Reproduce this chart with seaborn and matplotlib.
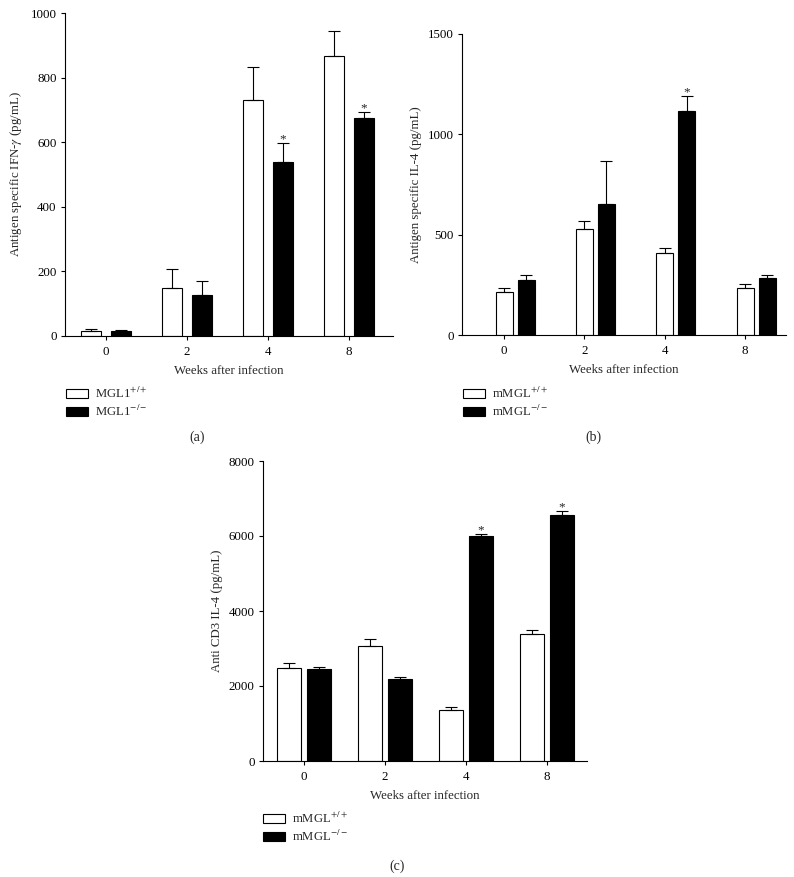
import numpy as np
import pandas as pd
import seaborn as sns
import matplotlib.pyplot as plt
from matplotlib.patches import Patch

# -------------------------------------------------
# Data
# -------------------------------------------------
weeks = ["0", "2", "4", "8"]

# (a) antigen specific IFN-gamma
ifn_wt = [15, 149, 730, 868]
ifn_wt_err = [7, 59, 103, 76]
ifn_ko = [14, 127, 540, 675]
ifn_ko_err = [4, 44, 58, 19]
ifn_stars = [False, False, True, True]

# (b) antigen specific IL-4
il4_wt = [213, 528, 410, 233]
il4_wt_err = [23, 38, 26, 22]
il4_ko = [276, 651, 1117, 285]
il4_ko_err = [25, 215, 73, 15]
il4_stars = [False, False, True, False]

# (c) anti CD3 IL-4
cd3_wt = [2487, 3073, 1350, 3375]
cd3_wt_err = [115, 177, 98, 124]
cd3_ko = [2451, 2176, 6012, 6554]
cd3_ko_err = [62, 71, 45, 107]
cd3_stars = [False, False, True, True]

# -------------------------------------------------
# Style
# -------------------------------------------------
sns.set_style("ticks")
plt.rcParams["font.family"] = ["Liberation Serif", "DejaVu Serif"]
plt.rcParams["mathtext.fontset"] = "stix"
plt.rcParams["font.size"] = 9.3
plt.rcParams["axes.linewidth"] = 0.8
plt.rcParams["xtick.major.size"] = 3
plt.rcParams["ytick.major.size"] = 3
plt.rcParams["xtick.major.width"] = 0.8
plt.rcParams["ytick.major.width"] = 0.8
plt.rcParams["xtick.major.pad"] = 4.5
plt.rcParams["ytick.major.pad"] = 3
plt.rcParams["xtick.color"] = "black"
plt.rcParams["ytick.color"] = "black"
plt.rcParams["axes.edgecolor"] = "black"

W, H = 794, 877
fig = plt.figure(figsize=(W / 100, H / 100), dpi=100)


def px_axes(left, top, right, bottom):
    return fig.add_axes([left / W, 1 - bottom / H, (right - left) / W, (bottom - top) / H])


def draw_panel(ax, wt, wt_err, ko, ko_err, stars, width, gap, ylim, yticks,
               ylabel, labels, legend_xy, xshift=0.0, xlim=(-0.5, 3.5)):
    df = pd.DataFrame({
        "week": weeks * 2,
        "value": wt + ko,
        "genotype": ["wt"] * 4 + ["ko"] * 4,
    })
    sns.barplot(data=df, x="week", y="value", hue="genotype",
                palette={"wt": "white", "ko": "black"}, edgecolor="black",
                linewidth=0.8, width=width, gap=gap, errorbar=None,
                legend=False, ax=ax)

    # upper-only error bars on top of each bar
    bars = ax.patches
    errs = wt_err + ko_err
    xs = [b.get_x() + b.get_width() / 2 for b in bars]
    ys = [b.get_height() for b in bars]
    ax.errorbar(xs, ys, yerr=[np.zeros(len(errs)), errs], fmt="none",
                ecolor="black", elinewidth=0.8, capsize=4.5, capthick=0.8)

    for i, s in enumerate(stars):
        if s:
            ax.annotate("*", (xs[4 + i], ys[4 + i] + ko_err[i]),
                        xytext=(0, 0.5), textcoords="offset points",
                        ha="center", va="baseline", fontsize=9.5)

    ax.set_ylim(*ylim)
    ax.set_yticks(yticks)
    ax.set_xticks(np.arange(len(weeks)) + xshift)
    ax.set_xticklabels(weeks)
    ax.set_xlim(*xlim)
    ax.set_xlabel("Weeks after infection", labelpad=5)
    ax.set_ylabel(ylabel)
    ax.yaxis.set_label_coords(-0.124, 0.5)
    sns.despine(ax=ax)

    handles = [Patch(facecolor="white", edgecolor="black", linewidth=0.8),
               Patch(facecolor="black", edgecolor="black", linewidth=0.8)]
    ax.legend(handles, labels, loc="upper left",
              bbox_to_anchor=(legend_xy[0] / W, 1 - legend_xy[1] / H),
              bbox_transform=fig.transFigure, frameon=False, borderpad=0,
              borderaxespad=0, handlelength=1.7, handleheight=0.7,
              handletextpad=0.6, labelspacing=0.2, fontsize=9.2)


# -------------------------------------------------
# (a)
# -------------------------------------------------
ax_a = px_axes(65, 13, 393, 336)
draw_panel(ax_a, ifn_wt, ifn_wt_err, ifn_ko, ifn_ko_err, ifn_stars,
           width=0.74, gap=0.33, ylim=(0, 1000), yticks=range(0, 1001, 200),
           ylabel="Antigen specific IFN-$\\gamma$ (pg/mL)",
           labels=["MGL1$^{+/+}$", "MGL1$^{-/-}$"], legend_xy=(66, 386),
           xlim=(-0.506, 3.543))

# -------------------------------------------------
# (b)
# -------------------------------------------------
ax_b = px_axes(462, 34, 786, 335)
draw_panel(ax_b, il4_wt, il4_wt_err, il4_ko, il4_ko_err, il4_stars,
           width=0.548, gap=0.226, ylim=(0, 1500), yticks=range(0, 1501, 500),
           ylabel="Antigen specific IL-4 (pg/mL)",
           labels=["mMGL$^{+/+}$", "mMGL$^{-/-}$"], legend_xy=(463, 386),
           xshift=-0.137, xlim=(-0.66, 3.37))

# -------------------------------------------------
# (c)
# -------------------------------------------------
ax_c = px_axes(263, 461, 587, 761)
draw_panel(ax_c, cd3_wt, cd3_wt_err, cd3_ko, cd3_ko_err, cd3_stars,
           width=0.74, gap=0.23, ylim=(0, 8000), yticks=range(0, 8001, 2000),
           ylabel="Anti CD3 IL-4 (pg/mL)",
           labels=["mMGL$^{+/+}$", "mMGL$^{-/-}$"], legend_xy=(263, 811),
           xlim=(-0.506, 3.494))

# panel captions
fig.text(197 / W, 1 - 437 / H, "(a)", ha="center", va="center", fontsize=10)
fig.text(593 / W, 1 - 437 / H, "(b)", ha="center", va="center", fontsize=10)
fig.text(397 / W, 1 - 866 / H, "(c)", ha="center", va="center", fontsize=10)

plt.savefig("out.png", dpi=100)
